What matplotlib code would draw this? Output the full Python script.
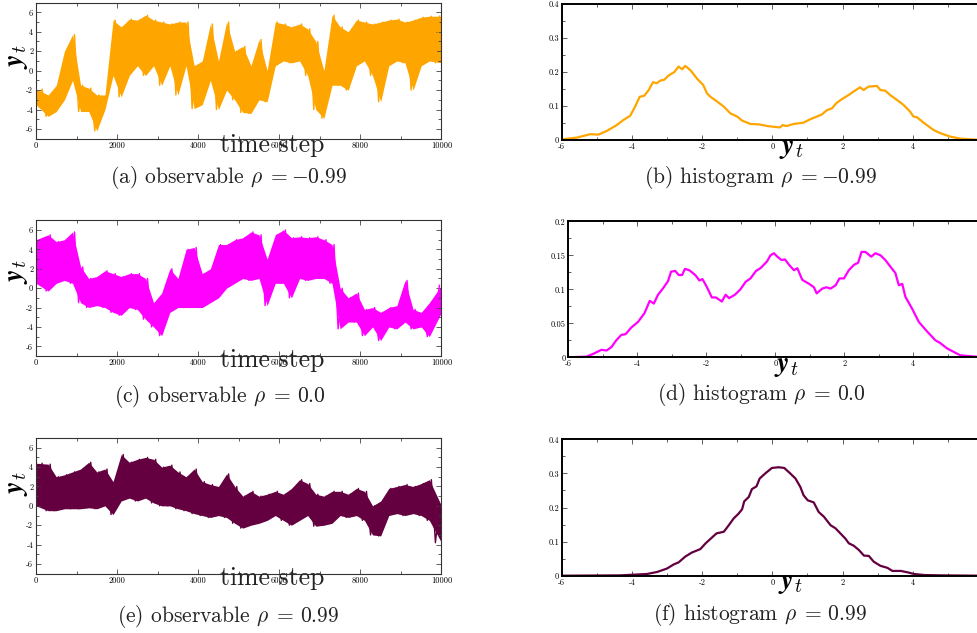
import numpy as np
import matplotlib
matplotlib.use("Agg")
import matplotlib.pyplot as plt
from matplotlib.ticker import MultipleLocator, FormatStrFormatter, FixedLocator

plt.rcParams['mathtext.fontset'] = 'cm'
plt.rcParams['font.family'] = ['cmr10', 'DejaVu Serif']
plt.rcParams['axes.unicode_minus'] = False
plt.rcParams['axes.formatter.use_mathtext'] = False

# ---------------- data ----------------
time_bins = list(range(0, 10000, 200))

obs_a_lo = [-3.5, -4.7, -4.2, -3.0, -1.0, -4.2, -4.2, -6.2, -4.0, -0.5,
            -2.7, -0.5, 0.5, -0.5, 0.5, -1.5, 0.5, -2.5, 0.5, -3.9,
            -3.5, -1.0, -4.0, -2.0, -3.0, -4.3, -4.4, -3.0, -3.2, 0.5,
            1.0, 0.8, 1.0, -0.5, -4.0, -4.9, -1.5, -1.5, -2.0, 0.5,
            1.0, -0.5, -3.2, 0.5, 1.0, 0.8, -2.0, 0.5, 1.0, 0.8]
obs_a_hi = [-1.9, -2.5, -1.5, 2.0, 3.7, -1.5, -1.8, -2.5, -2.5, 5.2,
            4.5, 5.3, 5.2, 5.7, 5.2, 5.0, 4.8, 5.0, 5.0, 0.5,
            1.0, 4.8, 1.0, 5.0, 2.0, 2.5, 0.5, 3.2, 0.0, 5.0,
            4.8, 4.5, 4.8, 4.3, 3.0, 0.0, 5.7, 4.5, 4.0, 5.2,
            5.0, 4.8, 5.0, 5.2, 5.3, 5.0, 5.2, 5.5, 5.6, 5.6]

obs_c_lo = [0.5, -0.3, 0.5, 0.8, 0.5, -1.5, -2.0, -1.8, -2.0, -2.5,
            -2.8, -2.0, -2.2, -3.2, -4.0, -4.9, -2.5, -2.0, -2.0, -2.0,
            -2.0, -1.5, -1.0, 0.0, 0.5, 1.0, 0.8, 1.0, -1.8, 0.5,
            0.5, -1.0, 1.0, 0.8, 1.0, 1.0, 0.5, -4.2, -3.5, -3.5,
            -4.9, -4.0, -5.4, -4.0, -4.2, -3.5, -4.2, -4.0, -5.0, -2.5]
obs_c_hi = [5.0, 5.5, 4.8, 5.0, 5.8, 2.2, 1.0, 1.2, 1.8, 1.5,
            1.2, 1.5, 1.5, 1.0, -1.5, -0.5, 2.0, 1.0, 4.0, 4.2,
            1.5, 2.0, 4.5, 4.5, 5.0, 5.2, 5.8, 5.5, 3.0, 5.5,
            6.0, 5.2, 5.3, 5.2, 5.3, 5.0, 4.5, 0.0, -1.0, -0.5,
            -2.2, -2.0, -2.5, -2.0, -1.8, 0.8, -2.2, -2.5, -1.5, 0.3]

obs_e_lo = [0.0, -0.5, -0.5, -0.3, -0.3, -0.3, -0.2, -0.3, 0.0, -0.9,
            0.5, 0.8, 0.5, 0.8, 0.3, 0.0, 0.0, -0.3, -0.5, -0.8,
            -1.0, -1.2, -1.0, -1.2, -1.8, -2.3, -2.0, -1.8, -1.5, -1.0,
            -1.5, -2.0, -1.5, -1.0, -2.1, -2.0, -1.8, -1.0, -1.2, -1.0,
            -1.5, -3.0, -3.1, -1.0, -0.8, -1.0, -0.8, -1.0, -1.5, -3.8]
obs_e_hi = [4.4, 4.3, 3.0, 3.2, 3.5, 3.8, 4.5, 3.5, 3.8, 2.5,
            5.3, 4.5, 4.8, 5.0, 4.8, 4.0, 4.2, 3.5, 3.0, 3.8,
            2.5, 2.2, 2.0, 3.3, 2.0, 1.0, 1.5, 1.0, 1.2, 1.5,
            1.2, 1.8, 2.7, 2.3, 1.2, 1.0, 1.5, 1.5, 1.2, 1.8,
            1.5, 0.0, 0.5, 1.8, 2.0, 2.2, 2.0, 2.3, 2.7, 0.0]

hist_b_x = [-6.0, -5.57, -5.19, -4.95, -4.71, -4.43, -4.24, -4.05, -3.9, -3.78,
            -3.65, -3.52, -3.40, -3.29, -3.19, -3.08, -2.95, -2.79, -2.67, -2.57,
            -2.48, -2.33, -2.14, -1.97, -1.86, -1.76, -1.57, -1.38, -1.19, -1.0,
            -0.86, -0.62, -0.38, -0.14, 0.03, 0.22, 0.30, 0.41, 0.60, 0.89,
            1.08, 1.27, 1.41, 1.56, 1.70, 1.82, 1.98, 2.17, 2.31, 2.50,
            2.60, 2.74, 2.98, 3.08, 3.22, 3.36, 3.55, 3.74, 3.93, 4.02,
            4.12, 4.31, 4.60, 4.79, 5.07, 5.36, 5.83]
hist_b_y = [0.002, 0.007, 0.017, 0.016, 0.027, 0.044, 0.059, 0.071, 0.100, 0.127,
            0.130, 0.147, 0.170, 0.167, 0.175, 0.177, 0.190, 0.200, 0.216, 0.208,
            0.218, 0.205, 0.180, 0.162, 0.137, 0.127, 0.113, 0.098, 0.078, 0.069,
            0.057, 0.047, 0.046, 0.041, 0.039, 0.037, 0.044, 0.041, 0.047, 0.051,
            0.061, 0.069, 0.075, 0.088, 0.093, 0.108, 0.120, 0.132, 0.142, 0.155,
            0.147, 0.157, 0.159, 0.147, 0.145, 0.132, 0.118, 0.103, 0.083, 0.069,
            0.067, 0.051, 0.029, 0.020, 0.010, 0.004, 0.001]

hist_d_x = [-6.0, -5.47, -5.28, -5.04, -4.89, -4.75, -4.61, -4.46, -4.34, -4.17,
            -3.98, -3.79, -3.64, -3.52, -3.40, -3.26, -3.11, -3.02, -2.90, -2.80,
            -2.70, -2.62, -2.49, -2.32, -2.20, -2.11, -1.98, -1.84, -1.72, -1.55,
            -1.44, -1.34, -1.17, -1.01, -0.86, -0.72, -0.56, -0.43, -0.24, -0.14,
            -0.04, 0.06, 0.18, 0.28, 0.40, 0.54, 0.64, 0.78, 0.88, 0.98,
            1.12, 1.20, 1.36, 1.48, 1.60, 1.75, 1.86, 1.99, 2.13, 2.28,
            2.40, 2.50, 2.61, 2.78, 2.90, 3.05, 3.19, 3.34, 3.48, 3.58,
            3.68, 3.77, 3.96, 4.16, 4.40, 4.64, 4.78, 4.98, 5.17, 5.36,
            5.56, 5.82]
hist_d_y = [0.000, 0.001, 0.005, 0.011, 0.010, 0.015, 0.025, 0.033, 0.034, 0.044,
            0.052, 0.065, 0.083, 0.079, 0.092, 0.101, 0.112, 0.126, 0.127, 0.121,
            0.121, 0.130, 0.128, 0.121, 0.113, 0.115, 0.103, 0.088, 0.088, 0.082,
            0.092, 0.087, 0.092, 0.100, 0.111, 0.116, 0.127, 0.131, 0.141, 0.150,
            0.153, 0.148, 0.143, 0.144, 0.136, 0.128, 0.131, 0.114, 0.111, 0.108,
            0.103, 0.094, 0.101, 0.103, 0.101, 0.106, 0.116, 0.116, 0.128, 0.136,
            0.139, 0.155, 0.155, 0.148, 0.153, 0.150, 0.143, 0.133, 0.124, 0.106,
            0.108, 0.089, 0.072, 0.052, 0.038, 0.025, 0.021, 0.013, 0.008, 0.003,
            0.002, 0.001]

hist_f_x = [-6.0, -4.33, -3.95, -3.57, -3.28, -3.0, -2.81, -2.67, -2.48, -2.29,
            -2.05, -1.90, -1.74, -1.59, -1.38, -1.24, -1.10, -0.96, -0.86, -0.80,
            -0.67, -0.58, -0.45, -0.36, -0.20, -0.01, 0.18, 0.34, 0.51, 0.66,
            0.80, 0.89, 1.01, 1.18, 1.32, 1.47, 1.66, 1.80, 1.94, 2.08,
            2.18, 2.32, 2.47, 2.61, 2.75, 2.89, 3.08, 3.28, 3.42, 3.66,
            3.85, 4.04, 4.33, 4.80, 5.90]
hist_f_y = [0.000, 0.001, 0.003, 0.005, 0.011, 0.021, 0.033, 0.039, 0.056, 0.068,
            0.078, 0.095, 0.110, 0.124, 0.129, 0.148, 0.168, 0.182, 0.195, 0.218,
            0.231, 0.254, 0.262, 0.285, 0.300, 0.316, 0.318, 0.316, 0.300, 0.285,
            0.260, 0.236, 0.221, 0.215, 0.187, 0.173, 0.148, 0.139, 0.124, 0.109,
            0.095, 0.088, 0.075, 0.059, 0.058, 0.041, 0.029, 0.023, 0.014, 0.014,
            0.010, 0.005, 0.002, 0.001, 0.000]

hist_xticks = [-6, -4, -2, 0, 2, 4]

colors = ['#FFA500', '#FF00FF', '#640040']
obs_captions = [r"(a) observable $\rho\;=-0.99$", r"(c) observable $\rho\;=\,0.0$",
                r"(e) observable $\rho\;=\,0.99$"]
hist_captions = [r"(b) histogram $\rho\;=-0.99$", r"(d) histogram $\rho\;=\,0.0$",
                 r"(f) histogram $\rho\;=\,0.99$"]

# ---------------- layout ----------------
W, H = 978, 633
fig = plt.figure(figsize=(W / 100, H / 100), dpi=100)


def box(l, r, t, b):
    return [l / W, 1 - b / H, (r - l) / W, (b - t) / H]


def fx(px):
    return px / W


def fy(py):
    return 1 - py / H


ts_boxes = [(36, 441.5, 2.6, 138.7), (36, 441.5, 220.3, 356.0), (36, 441.5, 438.0, 573.7)]
hist_boxes = [(561.7, 982.9, 4.0, 140.0), (568.3, 982.3, 221.3, 357.3), (561.7, 982.9, 439.3, 575.7)]
hist_ymax = [0.4, 0.2, 0.4]
hist_ystep = [0.1, 0.05, 0.1]

ts_ylab = [(17, 57), (17, 272), (17, 484)]
ts_xlab = [(272, 152), (272, 367), (272, 585)]
ts_cap = [(229, 178), (220, 396), (228, 616)]
h_xlab = [(791, 148), (786, 366), (790, 583)]
h_cap = [(761, 178), (761, 395), (760, 614)]

obs_lo = [obs_a_lo, obs_c_lo, obs_e_lo]
obs_hi = [obs_a_hi, obs_c_hi, obs_e_hi]
hists = [(hist_b_x, hist_b_y), (hist_d_x, hist_d_y), (hist_f_x, hist_f_y)]

for i in range(3):
    # ---- time series panel ----
    ax = fig.add_axes(box(*ts_boxes[i]))
    t = np.array(time_bins, dtype=float)
    lo = np.array(obs_lo[i])
    hi = np.array(obs_hi[i])
    tf = t + 100
    tf[0] = 0
    tf[-1] = 10000
    ax.fill_between(tf, lo, hi, color=colors[i], lw=0)
    zx = np.ravel(np.column_stack([t + 50, t + 150]))
    zy = np.ravel(np.column_stack([lo, hi]))
    ax.plot(zx, zy, color=colors[i], lw=1.0)
    ax.set_xlim(0, 10000)
    ax.set_ylim(-7, 7)
    ax.xaxis.set_major_locator(MultipleLocator(2000))
    ax.xaxis.set_minor_locator(MultipleLocator(1000))
    ax.yaxis.set_major_locator(MultipleLocator(2))
    ax.yaxis.set_minor_locator(MultipleLocator(1))
    ax.tick_params(which='both', direction='in', top=True, right=True,
                   color='#444444', labelsize=6, pad=2, width=0.6)
    ax.tick_params(which='major', length=3.5)
    ax.tick_params(which='minor', length=2)
    for s in ax.spines.values():
        s.set_linewidth(0.8)
        s.set_color('#333333')
    fig.text(fx(ts_ylab[i][0]), fy(ts_ylab[i][1]), r"$\boldsymbol{y}_t$",
             rotation=90, ha='center', va='center', fontsize=20)
    fig.text(fx(ts_xlab[i][0]), fy(ts_xlab[i][1]), "time step",
             ha='center', va='baseline', fontsize=18.5, color='#222222')
    fig.text(fx(ts_cap[i][0]), fy(ts_cap[i][1]), obs_captions[i],
             ha='center', va='center', fontsize=15.5, color='#222222')

    # ---- histogram panel ----
    hx = fig.add_axes(box(*hist_boxes[i]))
    hx.plot(hists[i][0], hists[i][1], color=colors[i], lw=1.6)
    hx.set_xlim(-6, 6)
    hx.set_ylim(0, hist_ymax[i])
    hx.xaxis.set_major_locator(FixedLocator(hist_xticks))
    hx.xaxis.set_minor_locator(MultipleLocator(1))
    hx.yaxis.set_major_locator(MultipleLocator(hist_ystep[i]))
    hx.yaxis.set_minor_locator(MultipleLocator(hist_ystep[i] / 2))
    hx.yaxis.set_major_formatter(FormatStrFormatter('%g'))
    hx.tick_params(which='both', direction='in', top=True, right=True,
                   color='#444444', labelsize=6, pad=2, width=0.6)
    hx.tick_params(which='major', length=3.5)
    hx.tick_params(which='minor', length=2)
    for s in hx.spines.values():
        s.set_linewidth(1.4)
        s.set_color('black')
    fig.text(fx(h_xlab[i][0]), fy(h_xlab[i][1]), r"$\boldsymbol{y}_t$",
             ha='center', va='center', fontsize=20)
    fig.text(fx(h_cap[i][0]), fy(h_cap[i][1]), hist_captions[i],
             ha='center', va='center', fontsize=15.5, color='#222222')

fig.savefig("out.png", dpi=100)
